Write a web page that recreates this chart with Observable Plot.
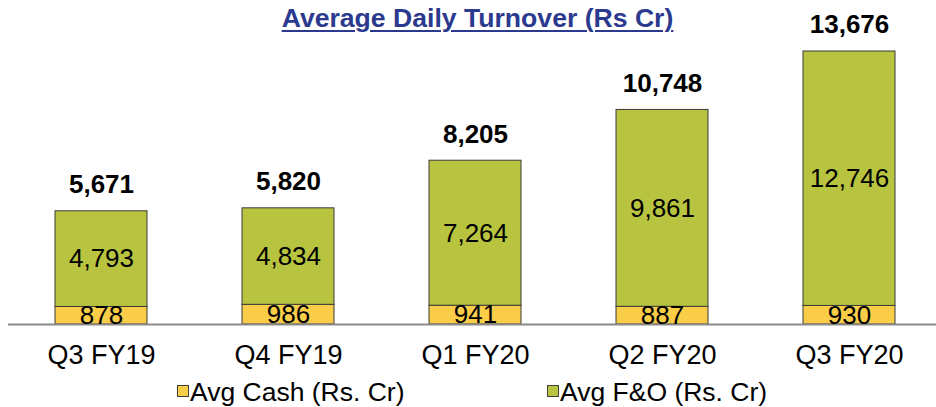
<!DOCTYPE html>
<html>
<head>
<meta charset="utf-8">
<script src="https://cdn.jsdelivr.net/npm/d3@7"></script>
<script src="https://cdn.jsdelivr.net/npm/@observablehq/plot@0.6"></script>
<style>
  html, body { margin: 0; padding: 0; background: #fff; }
  #wrap { position: relative; width: 936px; height: 407px; overflow: hidden; font-family: "Liberation Sans", Arial, sans-serif; }
  #title { position: absolute; left: 0; top: 5px; width: 955px; text-align: center; font-size: 26.6px; line-height: 26px; font-weight: bold; color: #2B3A8E; text-decoration: underline; text-decoration-thickness: 2px; text-underline-offset: 3px; }
  #chart { position: absolute; left: 0; top: 0; }
  .item { position: absolute; top: 379px; height: 26px; font-size: 26.5px; line-height: 26px; color: #000; white-space: nowrap; }
  .sw { position: absolute; left: 0; top: 6px; width: 12px; height: 12px; box-sizing: border-box; border: 1px solid #404040; }
  .lbl { position: absolute; left: 13px; top: 0; }
</style>
</head>
<body>
<div id="wrap">
  <div id="chart"></div>
  <div id="title">Average Daily Turnover (Rs Cr)</div>
  <div id="legend"></div>
</div>
<script>
const quarters = ["Q3 FY19", "Q4 FY19", "Q1 FY20", "Q2 FY20", "Q3 FY20"];
const cashValues = [878, 986, 941, 887, 930];
const foValues = [4793, 4834, 7264, 9861, 12746];
const totalValues = [5671, 5820, 8205, 10748, 13676];
const seriesNames = ["Avg Cash (Rs. Cr)", "Avg F&O (Rs. Cr)"];
const seriesColors = ["#F9CD48", "#B8C43F"];

const rows = [];
quarters.forEach((q, i) => rows.push({quarter: q, series: seriesNames[0], value: cashValues[i]}));
quarters.forEach((q, i) => rows.push({quarter: q, series: seriesNames[1], value: foValues[i]}));
const totals = quarters.map((q, i) => ({quarter: q, total: totalValues[i]}));

const fmt = d3.format(",");

const chart = Plot.plot({
  width: 936,
  height: 407,
  marginLeft: 8,
  marginRight: 0,
  marginTop: 0,
  marginBottom: 83,
  style: {fontFamily: "'Liberation Sans', Arial, sans-serif", fontSize: "27px", color: "#000", background: "transparent", overflow: "visible"},
  x: {domain: quarters, range: [8, 943], paddingInner: 0.508, paddingOuter: 0.254, tickSize: 0, tickPadding: 20, label: null},
  y: {domain: [0, 13676], range: [324, 51], axis: null},
  color: {domain: seriesNames, range: seriesColors},
  marks: [
    Plot.barY(rows, {x: "quarter", y: "value", fill: "series", stroke: "#3a3a3a", strokeWidth: 1}),
    Plot.ruleY([0], {stroke: "#8a8a8a", strokeWidth: 2}),
    Plot.text(rows, Plot.stackY({x: "quarter", y: "value", z: "series", text: d => fmt(d.value), fontSize: 26, fill: "#000"})),
    Plot.text(totals, {x: "quarter", y: "total", text: d => fmt(d.total), dy: -26.5, fontSize: 26, fontWeight: "bold", fill: "#000"})
  ]
});
document.getElementById("chart").appendChild(chart);

const legend = document.getElementById("legend");
const legendLeft = [177, 547];
seriesNames.forEach((name, i) => {
  const item = document.createElement("div");
  item.className = "item";
  item.style.left = legendLeft[i] + "px";
  const sw = document.createElement("div");
  sw.className = "sw";
  sw.style.background = seriesColors[i];
  const lbl = document.createElement("div");
  lbl.className = "lbl";
  lbl.textContent = name;
  item.appendChild(sw);
  item.appendChild(lbl);
  legend.appendChild(item);
});
</script>
</body>
</html>
